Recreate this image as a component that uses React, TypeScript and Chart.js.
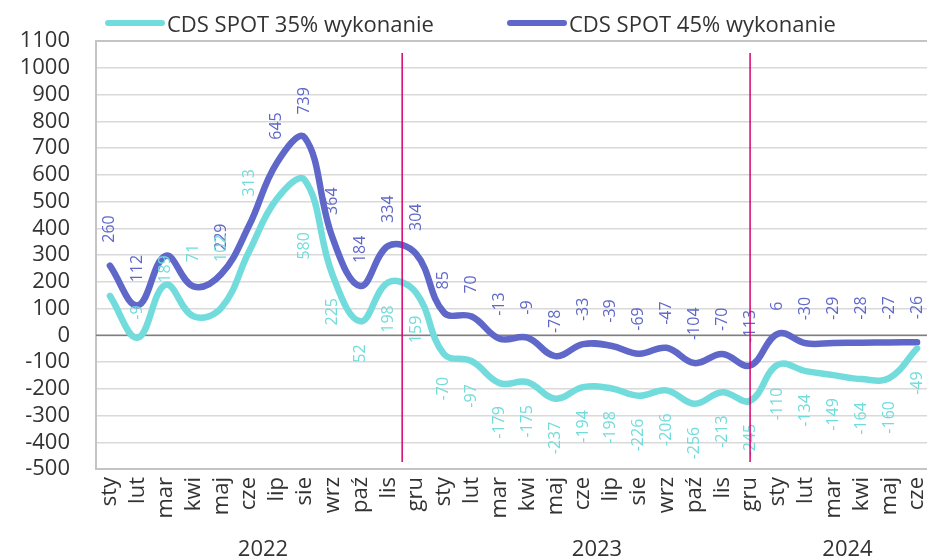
import React, { useEffect, useRef } from "react";
import { Chart, registerables } from "chart.js";

Chart.register(...registerables);

const categories = [
  "sty", "lut", "mar", "kwi", "maj", "cze", "lip", "sie", "wrz", "paź", "lis", "gru",
  "sty", "lut", "mar", "kwi", "maj", "cze", "lip", "sie", "wrz", "paź", "lis", "gru",
  "sty", "lut", "mar", "kwi", "maj", "cze",
];
const years = ["2022", "2023", "2024"];
const yearCounts = [12, 12, 6];

const cds35 = [
  147, -9, 189, 71, 102, 313, 510, 580, 225, 52, 198, 159,
  -70, -97, -179, -175, -237, -194, -198, -226, -206, -256, -213, -245,
  -110, -134, -149, -164, -160, -49,
];
const cds45 = [
  260, 112, 297, 183, 229, 410, 645, 739, 364, 184, 334, 304,
  85, 70, -13, -9, -78, -33, -39, -69, -47, -104, -70, -113,
  6, -30, -29, -28, -27, -26,
];
const seriesNames = ["CDS SPOT 35% wykonanie", "CDS SPOT 45% wykonanie"];
const yMin = -500;
const yMax = 1100;
const yStep = 100;

const CYAN = "#72dcdc";
const PURPLE = "#5f67c9";
const MAGENTA = "#d6006f";
const TEXT = "#333333";
const FONT = "'Open Sans', 'Noto Sans', sans-serif";

// label styling (not data): hidden labels and lifts (+ above, - below)
const hidden35 = new Set([0, 6]);
const hidden45 = new Set([2, 3, 5]);
const lift35: Record<number, number> = { 1: 18, 2: 2, 3: 54, 4: 46, 5: 55, 7: -52 };

const overlay = {
  id: "overlay",
  beforeDatasetsDraw(chart: any) {
    const { ctx, chartArea: a } = chart;
    ctx.save();
    ctx.strokeStyle = "#c4c4c4";
    ctx.lineWidth = 2;
    ctx.beginPath();
    ctx.moveTo(a.right + 5, a.top);
    ctx.lineTo(a.left, a.top);
    ctx.lineTo(a.left, a.bottom);
    ctx.lineTo(a.right + 5, a.bottom);
    ctx.stroke();
    const y0 = chart.scales.y.getPixelForValue(0);
    ctx.strokeStyle = "#7f7f7f";
    ctx.lineWidth = 1.5;
    ctx.beginPath();
    ctx.moveTo(a.left, y0);
    ctx.lineTo(a.right + 5, y0);
    ctx.stroke();
    ctx.restore();
  },
  afterDatasetsDraw(chart: any) {
    const { ctx, chartArea: a } = chart;
    const xs = chart.scales.x;
    const ys = chart.scales.y;
    ctx.save();
    ctx.font = `16px ${FONT}`;
    ctx.textBaseline = "middle";
    const drawLabel = (i: number, v: number, color: string, lift: number) => {
      const x = xs.getPixelForValue(i);
      const y = ys.getPixelForValue(v);
      ctx.save();
      ctx.fillStyle = color;
      ctx.translate(x, y - lift);
      ctx.rotate(-Math.PI / 2);
      ctx.textAlign = lift >= 0 ? "left" : "right";
      ctx.fillText(String(v), 0, 0);
      ctx.restore();
    };
    cds45.forEach((v, i) => {
      if (!hidden45.has(i)) drawLabel(i, v, PURPLE, 23);
    });
    cds35.forEach((v, i) => {
      if (!hidden35.has(i)) drawLabel(i, v, CYAN, lift35[i] !== undefined ? lift35[i] : -23);
    });
    const x1 = (xs.getPixelForValue(10) + xs.getPixelForValue(11)) / 2;
    const x2 = xs.getPixelForValue(23);
    ctx.strokeStyle = MAGENTA;
    ctx.lineWidth = 1.5;
    [x1, x2].forEach((x) => {
      ctx.beginPath();
      ctx.moveTo(x, a.top + 12);
      ctx.lineTo(x, a.bottom - 7);
      ctx.stroke();
    });
    ctx.restore();
  },
  afterDraw(chart: any) {
    const { ctx, chartArea: a } = chart;
    const xs = chart.scales.x;
    ctx.save();
    ctx.fillStyle = TEXT;
    ctx.font = `22px ${FONT}`;
    ctx.textBaseline = "middle";
    categories.forEach((c, i) => {
      const x = xs.getPixelForValue(i);
      ctx.save();
      ctx.translate(x, a.bottom + 8);
      ctx.rotate(-Math.PI / 2);
      ctx.textAlign = "right";
      ctx.fillText(c, 0, 0);
      ctx.restore();
    });
    ctx.textAlign = "center";
    ctx.textBaseline = "alphabetic";
    let start = 0;
    years.forEach((yr, k) => {
      const end = start + yearCounts[k] - 1;
      const cx = (xs.getPixelForValue(start) + xs.getPixelForValue(end)) / 2;
      ctx.fillText(yr, cx, 556);
      start = end + 1;
    });
    const items = [
      { x: 108, color: CYAN, name: seriesNames[0] },
      { x: 510, color: PURPLE, name: seriesNames[1] },
    ];
    items.forEach((it) => {
      ctx.strokeStyle = it.color;
      ctx.lineWidth = 6;
      ctx.lineCap = "round";
      ctx.beginPath();
      ctx.moveTo(it.x, 23);
      ctx.lineTo(it.x + 54, 23);
      ctx.stroke();
      ctx.fillStyle = TEXT;
      ctx.textAlign = "left";
      ctx.fillText(it.name, it.x + 59, 31.5);
    });
    ctx.restore();
  },
};

export default function App() {
  const ref = useRef<HTMLCanvasElement | null>(null);
  useEffect(() => {
    if (!ref.current) return;
    const chart = new Chart(ref.current, {
      type: "line",
      data: {
        labels: categories,
        datasets: [
          {
            label: seriesNames[0],
            data: cds35,
            borderColor: CYAN,
            backgroundColor: CYAN,
            borderWidth: 6.5,
            pointRadius: 0,
            tension: 0.4,
            borderCapStyle: "round",
            borderJoinStyle: "round",
          },
          {
            label: seriesNames[1],
            data: cds45,
            borderColor: PURPLE,
            backgroundColor: PURPLE,
            borderWidth: 6.5,
            pointRadius: 0,
            tension: 0.4,
            borderCapStyle: "round",
            borderJoinStyle: "round",
          },
        ],
      },
      options: {
        animation: false,
        responsive: true,
        maintainAspectRatio: false,
        layout: { padding: { top: 41, right: 4, left: 0, bottom: 0 } },
        plugins: {
          legend: { display: false },
          tooltip: { enabled: false },
        },
        scales: {
          x: {
            offset: true,
            grid: { display: false },
            border: { display: false },
            ticks: { display: false },
            afterFit: (s: any) => {
              s.height = 90;
            },
          },
          y: {
            min: yMin,
            max: yMax,
            border: { display: false },
            grid: {
              color: "#d9d9d9",
              lineWidth: 1.5,
              drawTicks: false,
            },
            ticks: {
              stepSize: yStep,
              autoSkip: false,
              padding: 26,
              color: TEXT,
              font: { family: FONT, size: 22 },
              callback: (v: any) => String(v),
            },
            afterFit: (s: any) => {
              s.width = 96;
            },
          },
        },
      },
      plugins: [overlay],
    });
    return () => chart.destroy();
  }, []);
  return (
    <div
      style={{
        position: "fixed",
        left: 0,
        top: 0,
        width: 927,
        height: 559,
        overflow: "hidden",
        background: "#fff",
      }}
    >
      <div style={{ position: "relative", width: 935, height: 559 }}>
        <canvas ref={ref} />
      </div>
    </div>
  );
}
